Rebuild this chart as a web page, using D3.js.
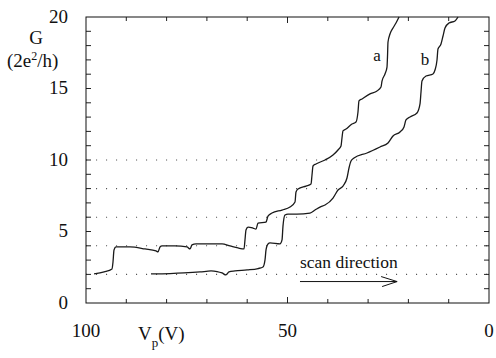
<!DOCTYPE html>
<html>
<head>
<meta charset="utf-8">
<script src="https://cdn.jsdelivr.net/npm/d3@7"></script>
<style>
  html, body { margin: 0; padding: 0; background: #fff; }
  svg { display: block; }
  text { font-family: "Liberation Serif", "Times New Roman", serif; fill: #111; }
</style>
</head>
<body>
<svg id="chart" width="496" height="358"></svg>
<script>
// Conductance G (units of 2e^2/h) versus gate voltage Vp (V), two sweeps a and b
const curveA_Vp = [98.0, 95.5, 93.55, 93.3, 93.05, 92.56, 89.08, 85.36, 82.63, 82.13, 81.64, 81.14, 77.92, 74.94, 74.19, 73.7, 72.7, 69.23, 66.25, 64.27, 62.28, 60.79, 60.55, 60.3, 59.8, 58.56, 57.82, 57.32, 55.33, 54.84, 53.85, 51.36, 49.38, 48.14, 47.89, 47.39, 45.41, 44.17, 43.92, 43.67, 42.93, 40.69, 38.71, 37.47, 36.72, 36.48, 36.23, 35.48, 34.0, 33.0, 32.51, 32.26, 31.51, 29.53, 27.79, 26.8, 26.55, 25.81, 25.31, 25.19, 25.06, 24.57, 23.82, 23.08, 22.33];
const curveA_G  = [2.03, 2.17, 2.38, 2.87, 3.71, 3.92, 3.92, 3.78, 3.64, 3.57, 3.92, 3.99, 3.99, 3.92, 3.78, 4.06, 4.13, 4.13, 4.13, 3.99, 3.85, 3.78, 4.41, 5.1, 5.31, 5.24, 5.17, 5.59, 5.66, 6.08, 6.29, 6.5, 6.71, 7.06, 7.76, 7.97, 8.18, 8.32, 8.95, 9.58, 9.72, 10.0, 10.35, 10.7, 10.98, 11.54, 12.03, 12.17, 12.52, 12.66, 13.36, 14.13, 14.27, 14.62, 14.83, 15.1, 15.52, 16.01, 16.5, 17.2, 18.25, 18.81, 19.23, 19.58, 20.0];

const curveB_Vp = [83.87, 79.16, 75.68, 71.71, 68.98, 67.49, 66.25, 65.26, 64.52, 63.03, 60.05, 57.32, 56.08, 55.58, 55.33, 54.84, 54.34, 51.86, 51.36, 51.12, 50.62, 49.88, 47.64, 44.42, 43.18, 41.94, 40.69, 38.71, 37.47, 36.23, 35.24, 34.74, 34.24, 33.5, 30.27, 27.05, 25.06, 23.82, 22.08, 21.09, 20.6, 19.6, 17.87, 17.12, 16.87, 16.63, 15.63, 13.9, 13.4, 12.9, 12.66, 11.91, 11.41, 10.92, 9.93, 8.44, 7.69];
const curveB_G  = [2.03, 2.06, 2.1, 2.17, 2.24, 2.2, 2.1, 1.96, 2.17, 2.24, 2.31, 2.41, 2.52, 3.01, 3.71, 4.13, 4.2, 4.13, 4.41, 5.38, 6.15, 6.22, 6.22, 6.29, 6.5, 6.71, 6.85, 7.34, 7.9, 8.18, 8.74, 9.44, 9.93, 10.14, 10.49, 10.91, 11.19, 11.68, 11.96, 12.31, 12.8, 13.01, 13.29, 13.92, 14.76, 15.52, 15.87, 16.01, 16.29, 16.99, 17.76, 18.11, 18.67, 19.23, 19.58, 19.72, 20.0];

const xTickLabels = [100, 50, 0];
const yTickLabels = [0, 5, 10, 15, 20];
const plateauLevels = [2, 4, 6, 8, 10];
const curveLabels = ["a", "b"];
const curveLabelVp = [27.8, 15.9];
const curveLabelG = [17.3, 17.0];

const svg = d3.select("#chart");
const plotLeft = 86, plotRight = 489, plotTop = 17, plotBottom = 303;

const x = d3.scaleLinear().domain([100, 0]).range([plotLeft, plotRight]);
const y = d3.scaleLinear().domain([0, 20]).range([plotBottom, plotTop]);

// dotted reference lines at the quantised plateaus
svg.append("g").selectAll("line").data(plateauLevels).join("line")
  .attr("x1", plotLeft).attr("x2", plotRight)
  .attr("y1", d => y(d)).attr("y2", d => y(d))
  .attr("stroke", "#555").attr("stroke-width", 1.1)
  .attr("stroke-dasharray", "1.1,8.9");

// inward tick marks on all four sides
const tickLen = 5;
const yMinor = d3.range(1, 20);
const xMinor = d3.range(10, 100, 10);
const ticks = svg.append("g").attr("stroke", "#222").attr("stroke-width", 1);
ticks.selectAll(".yl").data(yMinor).join("line")
  .attr("x1", plotLeft).attr("x2", plotLeft + tickLen)
  .attr("y1", d => y(d)).attr("y2", d => y(d));
ticks.selectAll(".yr").data(yMinor).join("line")
  .attr("x1", plotRight).attr("x2", plotRight - tickLen)
  .attr("y1", d => y(d)).attr("y2", d => y(d));
ticks.selectAll(".xb").data(xMinor).join("line")
  .attr("x1", d => x(d)).attr("x2", d => x(d))
  .attr("y1", plotBottom).attr("y2", d => plotBottom - (d === 50 ? 6 : 4));
ticks.selectAll(".xt").data(xMinor).join("line")
  .attr("x1", d => x(d)).attr("x2", d => x(d))
  .attr("y1", plotTop).attr("y2", d => plotTop + (d === 50 ? 6 : 4));

// frame
svg.append("rect")
  .attr("x", plotLeft).attr("y", plotTop)
  .attr("width", plotRight - plotLeft).attr("height", plotBottom - plotTop)
  .attr("fill", "none").attr("stroke", "#111").attr("stroke-width", 1);

// tick labels
svg.append("g").selectAll("text").data(xTickLabels).join("text")
  .attr("x", d => x(d)).attr("y", 337)
  .attr("text-anchor", "middle").attr("font-size", 19)
  .text(d => d);
svg.append("g").selectAll("text").data(yTickLabels).join("text")
  .attr("x", 68).attr("y", d => y(d) + 5.5)
  .attr("text-anchor", "end").attr("font-size", 19)
  .text(d => d);

// axis titles
svg.append("text").attr("x", 36).attr("y", 44)
  .attr("text-anchor", "middle").attr("font-size", 19).text("G");
const gUnit = svg.append("text").attr("x", 7).attr("y", 67).attr("font-size", 19);
gUnit.append("tspan").text("(2e");
gUnit.append("tspan").attr("font-size", 12).attr("dy", -7).text("2");
gUnit.append("tspan").attr("dy", 7).text("/h)");

const vLabel = svg.append("text").attr("x", 138).attr("y", 340).attr("font-size", 19);
vLabel.append("tspan").text("V");
vLabel.append("tspan").attr("font-size", 13).attr("dy", 7).text("p");
vLabel.append("tspan").attr("dy", -7).text("(V)");

// conductance curves
const line = d3.line()
  .x(d => x(d[0])).y(d => y(d[1]))
  .curve(d3.curveMonotoneX);
const series = [
  d3.zip(curveA_Vp, curveA_G),
  d3.zip(curveB_Vp, curveB_G)
];
svg.append("g").selectAll("path").data(series).join("path")
  .attr("d", line)
  .attr("fill", "none").attr("stroke", "#1a1a1a").attr("stroke-width", 1.3)
  .attr("stroke-linejoin", "round");

// curve names
svg.append("g").selectAll("text").data(curveLabels).join("text")
  .attr("x", (d, i) => x(curveLabelVp[i])).attr("y", (d, i) => y(curveLabelG[i]) + 5)
  .attr("text-anchor", "middle").attr("font-size", 17)
  .text(d => d);

// scan direction annotation
const arrowFrom = 46.9, arrowTo = 22.8, arrowG = 1.5;
svg.append("text").attr("x", x(arrowFrom)).attr("y", 268)
  .attr("font-size", 17.5).text("scan direction");
const ay = y(arrowG);
const arrow = svg.append("g").attr("stroke", "#111").attr("stroke-width", 1).attr("fill", "none");
arrow.append("line").attr("x1", x(arrowFrom)).attr("x2", x(arrowTo)).attr("y1", ay).attr("y2", ay);
arrow.append("polyline")
  .attr("points", `${x(arrowTo) - 16},${ay - 5} ${x(arrowTo)},${ay} ${x(arrowTo) - 15},${ay + 5}`);
</script>
</body>
</html>
